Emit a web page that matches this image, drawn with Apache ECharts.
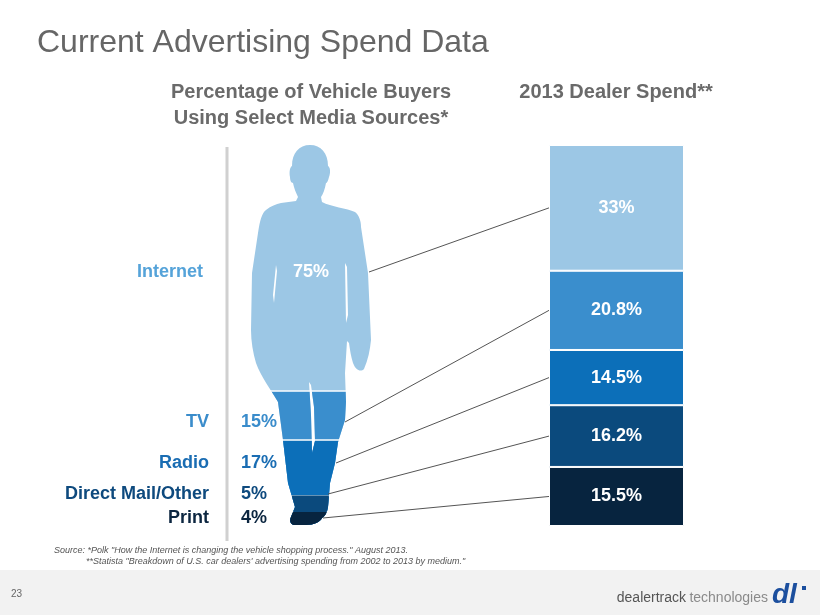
<!DOCTYPE html>
<html lang="en">
<head>
<meta charset="utf-8">
<title>Current Advertising Spend Data</title>
<script src="https://cdn.jsdelivr.net/npm/echarts@6/dist/echarts.min.js"></script>
<style>
  html, body { margin: 0; padding: 0; background: #fff; }
  #main { width: 820px; height: 615px; }
</style>
</head>
<body>
<div id="main"></div>
<script>
// data, top to bottom as in the slide
var media = ['Internet', 'TV', 'Radio', 'Direct Mail/Other', 'Print'];
var buyerShare = [75, 15, 17, 5, 4];             // % of vehicle buyers using the source
var dealerSpend = [33, 20.8, 14.5, 16.2, 15.5];  // 2013 dealer spend, %

// styles / layout
var FONT = '"Liberation Sans", Arial, Helvetica, sans-serif';
var fills = ['#9cc7e5', '#3a8ecd', '#0c6fb9', '#0b4a7d', '#07243f'];
var labelColors = ['#55a3d9', '#3a8ccb', '#1a6db3', '#0e4a7e', '#0c2640'];
var labelY = [272, 422, 463, 494, 518];
var labelRight = [203, 209, 209, 209, 209];
var edgeX = [369, 345, 336, 328, 323];   // right edge of the figure at each label row

// walking man, drawn in a 120 x 380 box
var personPath = 'path://' +
  'M59 0C70 0 77 8 77 21C79 22 80 27 78 32C77 36 76 38 75 38C74 44 72 49 70 52L71 57' +
  'C80 62 96 63 104 67C108 70 110 76 110 82L117 128L120 195' +
  'C119 205 117 215 113 224C110 227 105 226 102 218C100 212 99 205 98 198L96 196' +
  'L94 228L95 257L94 275L87 297L84 318L79 338L77 362' +
  'C76 368 74 371 71 373C69 377 63 380 55 380L44 380C40 380 38 376 40 372L44 362' +
  'L37 338L32 295L27 257C20 245 10 232 5 218C2 208 0 196 0 185L1 128L7 88' +
  'C9 75 11 68 15 65C20 61 25 59 30 58L45 56L47 52C45 48 43 43 42 38' +
  'C40 38 39 35 39 32C38 27 39 22 41 21C41 8 48 0 59 0Z' +
  'M25 120L22 150L23 158L26 126Z' +
  'M94 118L95 178L97 170L96 122Z' +
  'M58 237L60 270L61 308L64 296L63 262L60 240Z';

// cumulative heights of the figure bands, from the feet up
var cum = buyerShare.map(function (v, i) {
  return buyerShare.slice(i).reduce(function (a, b) { return a + b; }, 0);
});
var total = cum[0];

var chart = echarts.init(document.getElementById('main'), null, { renderer: 'canvas' });

var series = [];
media.forEach(function (name, i) {
  var s = {
    name: name + ' (buyers)',
    type: 'pictorialBar',
    xAxisIndex: 0,
    yAxisIndex: 0,
    barGap: '-100%',
    symbol: personPath,
    symbolSize: [120, '100%'],
    symbolPosition: 'start',
    symbolBoundingData: total,
    symbolClip: true,
    silent: true,
    z: 2 + i,
    itemStyle: { color: fills[i] },
    data: [cum[i]]
  };
  if (i === media.length - 1) {
    s.markLine = {
      silent: true,
      symbol: 'none',
      label: { show: false },
      lineStyle: { color: '#fff', width: 1.5, type: 'solid' },
      data: cum.slice(1).map(function (v) { return { yAxis: v }; })
    };
  }
  series.push(s);
});
for (var i = media.length - 1; i >= 0; i--) {
  series.push({
    name: media[i] + ' (spend)',
    type: 'bar',
    xAxisIndex: 1,
    yAxisIndex: 1,
    stack: 'spend',
    barWidth: '100%',
    silent: true,
    itemStyle: { color: fills[i], borderColor: '#fff', borderWidth: 1 },
    label: {
      show: true,
      position: 'inside',
      formatter: '{c}%',
      color: '#fff',
      fontFamily: FONT,
      fontWeight: 'bold',
      fontSize: 18
    },
    data: [dealerSpend[i]]
  });
}

chart.setOption({
  animation: false,
  backgroundColor: '#fff',
  grid: [
    { left: 251, top: 145, width: 120, height: 380 },
    { left: 549, top: 145, width: 135, height: 381 }
  ],
  xAxis: [
    { gridIndex: 0, type: 'category', data: ['buyers'], show: false },
    { gridIndex: 1, type: 'category', data: ['spend'], show: false }
  ],
  yAxis: [
    { gridIndex: 0, type: 'value', min: 0, max: total, show: false },
    { gridIndex: 1, type: 'value', min: 0, max: 100, show: false }
  ],
  series: series
});

function txt(x, y, text, font, fill, align) {
  return {
    type: 'text', x: x, y: y, silent: true, z: 100,
    style: {
      text: text, font: font, fill: fill,
      textAlign: align || 'left', textVerticalAlign: 'middle',
      align: align || 'left', verticalAlign: 'middle'
    }
  };
}

var g = [];
g.push({ type: 'rect', shape: { x: 0, y: 570, width: 820, height: 45 }, style: { fill: '#f2f2f2' }, silent: true, z: 1 });
g.push({ type: 'line', shape: { x1: 227, y1: 147, x2: 227, y2: 541 }, style: { stroke: '#d0d0d0', lineWidth: 3 }, silent: true, z: 1 });

g.push(txt(37, 43, 'Current Advertising Spend Data', '32px ' + FONT, '#666'));
g.push(txt(311, 92, 'Percentage of Vehicle Buyers', 'bold 20px ' + FONT, '#6a6a6a', 'center'));
g.push(txt(311, 118, 'Using Select Media Sources*', 'bold 20px ' + FONT, '#6a6a6a', 'center'));
g.push(txt(616, 92, '2013 Dealer Spend**', 'bold 20px ' + FONT, '#6a6a6a', 'center'));

media.forEach(function (name, i) {
  g.push(txt(labelRight[i], labelY[i], name, 'bold 18px ' + FONT, labelColors[i], 'right'));
  if (i === 0) {
    g.push(txt(311, labelY[i], buyerShare[i] + '%', 'bold 18px ' + FONT, '#fff', 'center'));
  } else {
    g.push(txt(241, labelY[i], buyerShare[i] + '%', 'bold 18px ' + FONT, labelColors[i]));
  }
});

// connectors: figure edge -> middle of the matching spend segment
media.forEach(function (name, i) {
  var below = dealerSpend.slice(i + 1).reduce(function (a, b) { return a + b; }, 0);
  var p = chart.convertToPixel({ xAxisIndex: 1, yAxisIndex: 1 }, [0, below + dealerSpend[i] / 2]);
  g.push({
    type: 'line', silent: true, z: 50,
    shape: { x1: edgeX[i], y1: labelY[i], x2: 549, y2: p[1] },
    style: { stroke: '#555', lineWidth: 1 }
  });
});

g.push(txt(54, 550, 'Source: *Polk "How the Internet is changing the vehicle shopping process." August 2013.', 'italic 9px ' + FONT, '#555'));
g.push(txt(86, 561, '**Statista "Breakdown of U.S. car dealers\' advertising spending from 2002 to 2013 by medium."', 'italic 9px ' + FONT, '#555'));
g.push(txt(11, 594, '23', '10px ' + FONT, '#666'));
g.push({
  type: 'text', x: 768, y: 598, silent: true, z: 100,
  style: {
    text: '{a|dealertrack} {b|technologies}',
    textAlign: 'right', textVerticalAlign: 'middle', align: 'right', verticalAlign: 'middle',
    rich: {
      a: { font: '14px ' + FONT, fill: '#555', color: '#555' },
      b: { font: '14px ' + FONT, fill: '#8a8a8a', color: '#8a8a8a' }
    }
  }
});
g.push(txt(772, 595, 'dl', 'italic bold 28px ' + FONT, '#1c4f9e'));
g.push({ type: 'rect', shape: { x: 802, y: 586, width: 4, height: 4 }, style: { fill: '#1c4f9e' }, silent: true, z: 100 });

chart.setOption({ graphic: g });
</script>
</body>
</html>
